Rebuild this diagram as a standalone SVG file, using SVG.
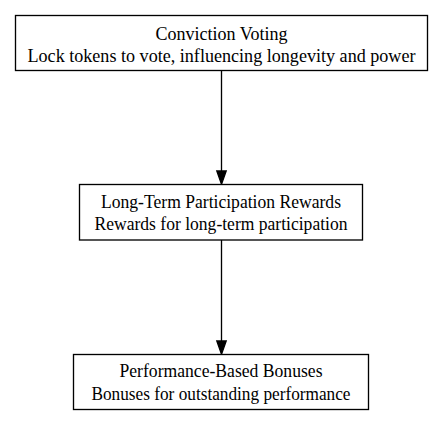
<svg xmlns="http://www.w3.org/2000/svg" width="443" height="425" viewBox="0 0 443 425">
<style>
.box{fill:#fff;stroke:#000;stroke-width:1.33}
.t{font-family:"Liberation Serif","Times New Roman",serif;font-size:18.2px;text-anchor:middle;fill:#000}
.e{stroke:#000;stroke-width:1.33;fill:none}
.ah{fill:#000;stroke:#000;stroke-width:1.33}
</style>
<rect width="443" height="425" fill="#fff"/>
<g id="connectors">
<path class="e" d="M221.5,70.5 V171"/>
<polygon class="ah" points="216.8,171 226.2,171 221.5,184.3"/>
<path class="e" d="M221.5,240 V341"/>
<polygon class="ah" points="216.8,341 226.2,341 221.5,354.3"/>
</g>
<g id="node1">
<rect class="box" x="15.5" y="15.5" width="412" height="55"/>
<text class="t" x="221.5" y="39.5" textLength="132" lengthAdjust="spacingAndGlyphs">Conviction Voting</text>
<text class="t" x="221.5" y="62" textLength="388" lengthAdjust="spacingAndGlyphs">Lock tokens to vote, influencing longevity and power</text>
</g>
<g id="node2">
<rect class="box" x="79.5" y="184.5" width="283" height="55.5"/>
<text class="t" x="221" y="207.5" textLength="240" lengthAdjust="spacingAndGlyphs">Long-Term Participation Rewards</text>
<text class="t" x="221" y="229.5" textLength="253" lengthAdjust="spacingAndGlyphs">Rewards for long-term participation</text>
</g>
<g id="node3">
<rect class="box" x="73.5" y="354.5" width="295" height="55"/>
<text class="t" x="221" y="377" textLength="203" lengthAdjust="spacingAndGlyphs">Performance-Based Bonuses</text>
<text class="t" x="221" y="399.5" textLength="259" lengthAdjust="spacingAndGlyphs">Bonuses for outstanding performance</text>
</g>
</svg>
